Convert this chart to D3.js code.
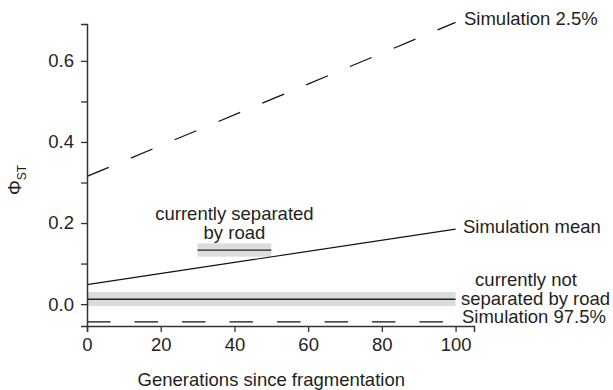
<!DOCTYPE html>
<html>
<head>
<meta charset="utf-8">
<script src="https://cdn.jsdelivr.net/npm/d3@7"></script>
<style>
  body { margin: 0; background: #fff; }
  text { font-family: "Liberation Sans", Arial, Helvetica, sans-serif; fill: #231f20; }
</style>
</head>
<body>
<script>
// data
var gens = [0, 100];
var sim025 = [0.315, 0.695];
var simMean = [0.048, 0.185];
var sim975 = [-0.044, -0.044];

var notSepGens = [0, 100];
var notSepMean = 0.012, notSepLo = -0.005, notSepHi = 0.030;
var sepGens = [30, 50];
var sepMean = 0.133, sepLo = 0.117, sepHi = 0.150;

var xTicks = [0, 20, 40, 60, 80, 100];
var yTicks = [0, 0.1, 0.2, 0.3, 0.4, 0.5, 0.6];
var yLabelled = [0, 0.2, 0.4, 0.6];

var width = 613, height = 390;
var fs = 18.5;

var svg = d3.select("body").append("svg")
    .attr("width", width)
    .attr("height", height);

var x = d3.scaleLinear().domain([0, 105]).range([87, 474]);
var y = d3.scaleLinear().domain([-0.054, 0.691]).range([326, 24]);

var line = d3.line()
    .x(function (d) { return x(d[0]); })
    .y(function (d) { return y(d[1]); });

function pairs(xs, ys) {
    return xs.map(function (v, i) { return [v, ys[i]]; });
}

// grey bands first
svg.append("rect")
    .attr("x", x(notSepGens[0]))
    .attr("width", x(notSepGens[1]) - x(notSepGens[0]))
    .attr("y", y(notSepHi))
    .attr("height", y(notSepLo) - y(notSepHi))
    .attr("fill", "#dcdcdc");

svg.append("rect")
    .attr("x", x(sepGens[0]))
    .attr("width", x(sepGens[1]) - x(sepGens[0]))
    .attr("y", y(sepHi))
    .attr("height", y(sepLo) - y(sepHi))
    .attr("fill", "#dcdcdc");

svg.append("path")
    .attr("d", line(pairs(notSepGens, [notSepMean, notSepMean])))
    .attr("fill", "none").attr("stroke", "#222").attr("stroke-width", 1.3);

svg.append("path")
    .attr("d", line(pairs(sepGens, [sepMean, sepMean])))
    .attr("fill", "none").attr("stroke", "#222").attr("stroke-width", 1.3);

// simulation lines
svg.append("path")
    .attr("d", line(pairs(gens, sim025)))
    .attr("fill", "none").attr("stroke", "#111").attr("stroke-width", 1.2)
    .attr("stroke-dasharray", "23.5,24");

svg.append("path")
    .attr("d", line(pairs(gens, simMean)))
    .attr("fill", "none").attr("stroke", "#111").attr("stroke-width", 1.2);

svg.append("path")
    .attr("d", line(pairs(gens, sim975)))
    .attr("fill", "none").attr("stroke", "#111").attr("stroke-width", 1.2)
    .attr("stroke-dasharray", "23.5,24");

// axes
var xAxis = d3.axisBottom(x).tickValues(xTicks).tickSizeOuter(0).tickSize(6).tickPadding(6);
var yAxis = d3.axisLeft(y).tickValues(yTicks).tickSizeOuter(0).tickSize(6).tickPadding(7)
    .tickFormat(function (d) {
        return yLabelled.some(function (v) { return Math.abs(v - d) < 1e-9; }) ? d3.format(".1f")(d) : "";
    });

var gx = svg.append("g").attr("transform", "translate(0,326)").call(xAxis);
var gy = svg.append("g").attr("transform", "translate(87,0)").call(yAxis);

[gx, gy].forEach(function (g) {
    g.select(".domain").attr("stroke", "#333").attr("stroke-width", 1.5);
    g.selectAll(".tick line").attr("stroke", "#333").attr("stroke-width", 1.3);
    g.selectAll(".tick text").attr("font-size", fs).attr("fill", "#231f20")
        .style("font-family", "'Liberation Sans', Arial, sans-serif");
});

svg.append("text")
    .attr("x", x(50)).attr("y", 379)
    .attr("text-anchor", "middle").attr("dominant-baseline", "central")
    .attr("font-size", fs)
    .text("Generations since fragmentation");

var yl = svg.append("text")
    .attr("transform", "translate(21,180) rotate(-90)")
    .attr("text-anchor", "middle")
    .attr("font-size", fs);
yl.append("tspan").text("\u03A6");
yl.append("tspan").attr("font-size", 12).attr("dy", 5).text("ST");

// line labels
function label(tx, ty, s, anchor) {
    svg.append("text")
        .attr("x", tx).attr("y", ty)
        .attr("text-anchor", anchor || "start")
        .attr("dominant-baseline", "central")
        .attr("font-size", fs)
        .text(s);
}
label(464, 18, "Simulation 2.5%");
label(463, 226, "Simulation mean");
label(526, 279, "currently not", "middle");
label(461, 298, "separated by road");
label(462, 316, "Simulation 97.5%");
label(x(40), 213, "currently separated", "middle");
label(x(40), 232, "by road", "middle");
</script>
</body>
</html>
